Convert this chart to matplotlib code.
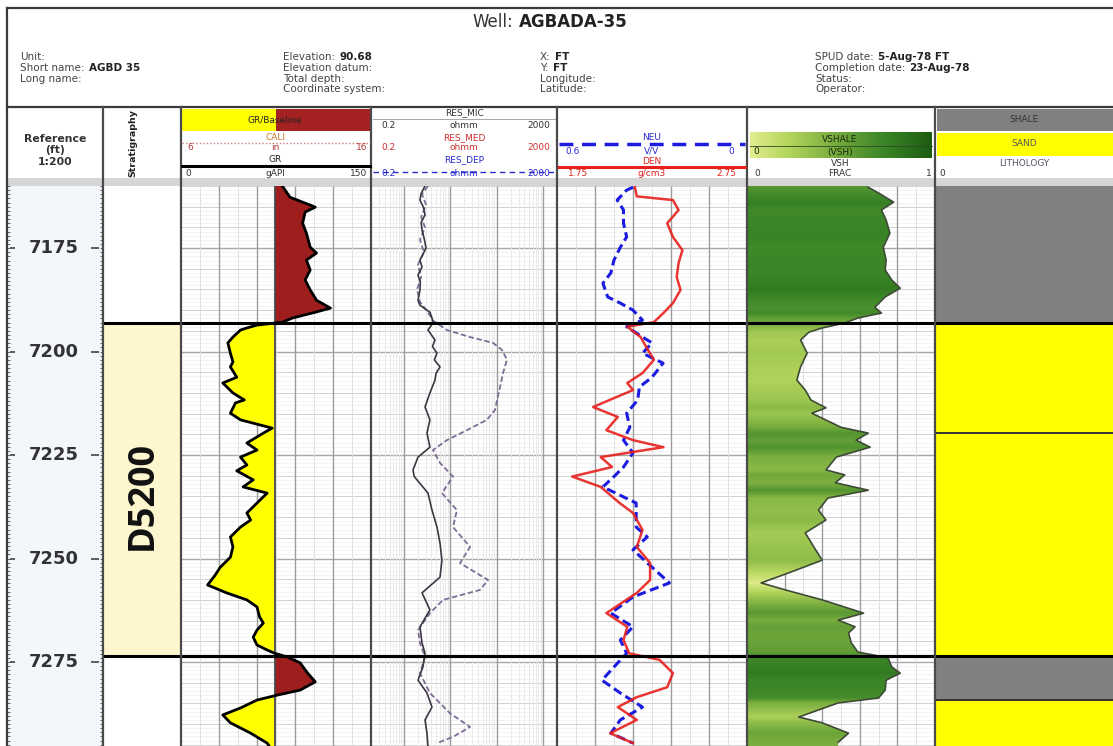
import numpy as np
import matplotlib
matplotlib.use("Agg")
import matplotlib.pyplot as plt
from matplotlib.colors import LinearSegmentedColormap
from matplotlib.patches import Rectangle

# ---- well data (depth in ft) ----
DEPTH_TOP, DEPTH_BOT = 7160.0, 7295.3
depth_labels = [7175, 7200, 7225, 7250, 7275]

zone_name = "D5200"
zone_top, zone_base = 7193.1, 7273.6

gr_base = 74.0
gr_depth = [7160.0, 7162.7, 7165.1, 7166.3, 7169.0, 7171.4, 7174.8, 7176.2, 7177.9, 7180.3,
            7182.7, 7185.1, 7187.6, 7189.5, 7190.5, 7191.9, 7192.9, 7193.6, 7194.3, 7194.8,
            7196.5, 7197.9, 7200.4, 7202.5, 7203.7, 7206.2, 7207.6, 7210.0, 7211.7, 7212.4,
            7214.9, 7216.5, 7218.5, 7219.7, 7222.1, 7223.8, 7225.5, 7227.4, 7228.8, 7231.0,
            7232.7, 7234.2, 7236.6, 7239.0, 7240.7, 7242.4, 7244.8, 7247.2, 7249.7, 7252.1,
            7254.0, 7256.4, 7258.3, 7260.0, 7261.7, 7264.1, 7265.6, 7267.3, 7269.0, 7270.9,
            7272.1, 7272.9, 7273.8, 7275.2, 7277.7, 7279.8, 7281.8, 7283.0, 7284.2, 7286.1,
            7287.8, 7289.7, 7292.2, 7294.6, 7295.5]
gr = [80, 86, 106, 98, 96, 99, 102, 107, 99, 102,
      98, 102, 107, 118, 106, 88, 80, 60, 52, 47,
      41, 37, 39, 41, 39, 44, 33, 41, 50, 43,
      39, 47, 72, 65, 52, 60, 47, 52, 44, 57,
      49, 68, 60, 52, 55, 47, 39, 41, 39, 31,
      27, 21, 36, 52, 60, 62, 65, 60, 57, 60,
      68, 74, 84, 94, 100, 106, 94, 76, 60, 47,
      33, 39, 55, 68, 70]

res_med_depth = [7160.0, 7161.8, 7163.4, 7165.2, 7167.0, 7168.8, 7170.6, 7172.8, 7175.0, 7177.9,
                 7179.6, 7181.5, 7183.3, 7185.1, 7187.6, 7188.8, 7190.5, 7191.9, 7193.1, 7194.8,
                 7197.2, 7198.8, 7200.4, 7202.0, 7203.7, 7205.3, 7206.9, 7210.0, 7213.4, 7216.5,
                 7219.7, 7223.1, 7225.5, 7228.6, 7230.2, 7234.2, 7238.3, 7242.4, 7246.3, 7250.4,
                 7254.5, 7258.3, 7262.4, 7266.5, 7270.4, 7272.9, 7276.2, 7279.4, 7282.5, 7285.9,
                 7289.0, 7292.2, 7295.5]
res_med = [2.9, 2.4, 2.26, 2.7, 2.9, 2.4, 2.5, 2.8, 3.05, 2.26,
           2.5, 2.05, 2.3, 2.26, 2.05, 2.26, 3.7, 4.1, 4.3, 3.36,
           4.75, 4.2, 5.25, 4.6, 6.1, 5.0, 4.75, 3.7, 2.9, 3.7,
           3.2, 3.7, 2.05, 1.6, 1.7, 3.36, 4.1, 5.25, 6.1, 6.7,
           6.1, 2.5, 3.7, 2.26, 2.5, 2.9, 2.62, 2.05, 3.2, 4.1,
           2.9, 3.2, 3.36]

res_dep_depth = [7160.0, 7162.0, 7164.5, 7167.5, 7170.0, 7173.0, 7176.0, 7179.0, 7182.0, 7185.0,
                 7188.0, 7190.5, 7192.5, 7194.8, 7196.5, 7197.9, 7199.6, 7202.0, 7205.2, 7208.6,
                 7211.7, 7214.1, 7216.5, 7219.0, 7221.4, 7223.8, 7226.9, 7230.2, 7234.2, 7238.3,
                 7242.4, 7247.2, 7251.1, 7255.2, 7257.6, 7260.0, 7263.2, 7267.3, 7270.4, 7273.8,
                 7277.7, 7282.5, 7287.4, 7290.7, 7293.1, 7294.6]
res_dep = [3.36, 2.5, 3.05, 2.4, 2.9, 2.26, 2.75, 2.05, 2.4, 1.95,
           2.26, 3.36, 4.3, 8.6, 27, 84, 131, 168, 138, 119,
           103, 93, 62, 23, 8.6, 4.3, 6.1, 11.6, 6.7, 14.1,
           11.6, 27, 16.4, 66, 44, 7.1, 3.7, 2.05, 2.26, 2.9,
           2.26, 3.7, 10, 27, 11.6, 5.25]

neu_depth = [7160.3, 7161.0, 7163.4, 7165.8, 7169.0, 7172.3, 7174.8, 7177.9, 7181.0, 7183.5,
             7186.8, 7188.3, 7190.0, 7192.4, 7194.0, 7196.5, 7197.9, 7200.4, 7202.8, 7206.2,
             7208.6, 7211.7, 7214.9, 7218.3, 7221.4, 7224.5, 7227.9, 7230.2, 7232.7, 7236.6,
             7242.4, 7244.8, 7247.9, 7252.1, 7255.9, 7259.3, 7263.2, 7266.5, 7269.7, 7272.9,
             7276.2, 7279.4, 7282.5, 7285.9, 7289.0, 7292.2, 7294.6]
neu = [0.36, 0.38, 0.41, 0.39, 0.39, 0.38, 0.40, 0.42, 0.43, 0.455,
       0.44, 0.40, 0.36, 0.33, 0.38, 0.33, 0.30, 0.33, 0.265, 0.30,
       0.34, 0.345, 0.38, 0.37, 0.39, 0.36, 0.39, 0.42, 0.455, 0.35,
       0.35, 0.315, 0.36, 0.30, 0.245, 0.36, 0.43, 0.36, 0.40, 0.38,
       0.42, 0.458, 0.40, 0.33, 0.40, 0.43, 0.36]

den_depth = [7160.3, 7162.5, 7163.4, 7165.8, 7169.0, 7172.3, 7175.5, 7178.6, 7182.0, 7185.1,
             7188.3, 7190.7, 7192.9, 7194.0, 7196.5, 7198.9, 7202.0, 7205.2, 7207.6, 7209.3,
             7213.4, 7215.8, 7219.0, 7221.4, 7223.1, 7225.5, 7227.9, 7230.2, 7232.7, 7236.6,
             7239.0, 7243.1, 7247.2, 7251.1, 7255.2, 7258.3, 7263.2, 7266.5, 7269.7, 7272.9,
             7274.5, 7277.7, 7281.1, 7283.5, 7285.9, 7289.0, 7292.2, 7294.6]
den = [2.16, 2.17, 2.36, 2.39, 2.33, 2.36, 2.41, 2.39, 2.38, 2.40,
       2.36, 2.31, 2.26, 2.12, 2.19, 2.22, 2.26, 2.20, 2.12, 2.15,
       1.94, 2.07, 2.01, 2.15, 2.31, 1.98, 2.04, 1.83, 1.98, 2.08,
       2.15, 2.20, 2.17, 2.24, 2.24, 2.17, 2.01, 2.12, 2.10, 2.13,
       2.29, 2.36, 2.33, 2.17, 2.07, 2.17, 2.03, 2.15]

vsh_depth = [7160.3, 7161.7, 7163.9, 7165.8, 7168.2, 7171.4, 7174.8, 7177.9, 7180.3, 7182.7,
             7184.7, 7186.8, 7189.3, 7190.7, 7191.9, 7193.1, 7194.3, 7195.3, 7197.2, 7200.4,
             7203.7, 7206.9, 7209.3, 7211.7, 7213.6, 7214.9, 7218.3, 7219.7, 7221.4, 7223.1,
             7225.5, 7228.6, 7229.8, 7231.7, 7233.5, 7235.4, 7238.3, 7240.7, 7243.8, 7247.9,
             7250.4, 7253.5, 7255.9, 7257.6, 7260.0, 7263.2, 7264.9, 7266.5, 7268.0, 7270.4,
             7272.6, 7274.0, 7276.2, 7277.7, 7279.4, 7281.8, 7283.7, 7284.9, 7286.6, 7288.3,
             7289.7, 7292.2, 7294.4]
vsh = [0.645, 0.70, 0.78, 0.715, 0.74, 0.76, 0.725, 0.74, 0.735, 0.77,
       0.815, 0.735, 0.68, 0.715, 0.59, 0.52, 0.40, 0.33, 0.285, 0.32,
       0.285, 0.265, 0.31, 0.34, 0.42, 0.345, 0.50, 0.645, 0.58, 0.655,
       0.475, 0.42, 0.52, 0.47, 0.645, 0.43, 0.38, 0.42, 0.31, 0.365,
       0.40, 0.22, 0.075, 0.205, 0.40, 0.62, 0.485, 0.575, 0.54, 0.555,
       0.59, 0.75, 0.77, 0.815, 0.74, 0.735, 0.70, 0.485, 0.38, 0.275,
       0.40, 0.54, 0.485]

lith_top = [7160.0, 7193.1, 7219.7, 7273.6, 7284.2]
lith_base = [7193.1, 7219.7, 7273.6, 7284.2, 7296.0]
lith_kind = ["SHALE", "SAND", "SAND", "SHALE", "SAND"]
lith_color = {"SHALE": "#808080", "SAND": "#ffff00"}

# ---- page layout, in pixels ----
W, H = 1113, 746
TRACK_Y0 = 186
COLS = {"depth": (7, 103), "strat": (103, 181), "gr": (181, 371), "res": (371, 557),
        "nd": (557, 747), "vsh": (747, 935), "lith": (935, 1113)}

vsh_cmap = LinearSegmentedColormap.from_list(
    "vsh", [(0, "#eef39a"), (0.25, "#b3d55c"), (0.5, "#76ab3d"), (0.75, "#3a8527"), (1, "#1d5c12")])

fig = plt.figure(figsize=(W / 100, H / 100), dpi=100)
fig.patch.set_facecolor("white")


def frac_box(x0, y0, x1, y1):
    return [x0 / W, 1 - y1 / H, (x1 - x0) / W, (y1 - y0) / H]


def track(name):
    x0, x1 = COLS[name]
    ax = fig.add_axes(frac_box(x0, TRACK_Y0, x1, H))
    ax.set_ylim(DEPTH_BOT, DEPTH_TOP)
    for s in ax.spines.values():
        s.set_visible(False)
    ax.tick_params(which="both", left=False, bottom=False, labelleft=False, labelbottom=False)
    return ax


def depth_grid(ax):
    tf = ax.get_yaxis_transform()
    ax.hlines(np.arange(7160, 7296, 1), 0, 1, transform=tf, color="#eeeeee", lw=0.5, zorder=0)
    ax.hlines(np.arange(7160, 7296, 5), 0, 1, transform=tf, color="#d2d2d2", lw=0.7, zorder=0)
    ax.hlines(depth_labels, 0, 1, transform=tf, color="#a8a8a8", lw=1.0, zorder=0)


def vgrid(ax, major, minor, minor_color="#dcdcdc"):
    tf = ax.get_xaxis_transform()
    ax.vlines(minor, 0, 1, transform=tf, color=minor_color, lw=0.6, zorder=0)
    ax.vlines(major, 0, 1, transform=tf, color="#9c9c9c", lw=1.0, zorder=0)


def zone_lines(ax):
    for d in (zone_top, zone_base):
        ax.axhline(d, color="black", lw=2.2, zorder=6)


# depth column
ax_d = track("depth")
ax_d.set_facecolor("#f3f6fa")
tf = ax_d.get_yaxis_transform()
minor_d = np.arange(7160, 7296, 1)
ax_d.hlines(minor_d, 0, 0.035, transform=tf, color="#666", lw=0.7)
ax_d.hlines(minor_d, 0.965, 1, transform=tf, color="#666", lw=0.7)
ax_d.hlines(depth_labels, 0.03, 0.08, transform=tf, color="#444", lw=1.2)
ax_d.hlines(depth_labels, 0.88, 0.96, transform=tf, color="#444", lw=1.2)
for d in depth_labels:
    ax_d.text(0.49, d, str(d), transform=tf, ha="center", va="center",
              fontsize=13, fontweight="bold", color="#333")

# stratigraphy column
ax_s = track("strat")
ax_s.axhspan(zone_top, zone_base, color="#fdf6cf", zorder=1)
ax_s.text(0.51, (zone_top + zone_base) / 2 + 1.5, zone_name, transform=ax_s.get_yaxis_transform(),
          rotation=90, ha="center", va="center", fontsize=26, fontweight="bold",
          family=["Open Sans", "DejaVu Sans"], color="#111")
zone_lines(ax_s)

# GR track
gr_a = np.array(gr, float)
ax_g = track("gr")
ax_g.set_xlim(0, 150)
depth_grid(ax_g)
vgrid(ax_g, np.arange(30, 150, 30), np.arange(15, 150, 15))
ax_g.fill_betweenx(gr_depth, gr_a, gr_base, where=gr_a <= gr_base, interpolate=True,
                   color="#ffff00", lw=0, zorder=2)
ax_g.fill_betweenx(gr_depth, gr_a, gr_base, where=gr_a >= gr_base, interpolate=True,
                   color="#9e1d1d", lw=0, zorder=2)
ax_g.axvline(gr_base, color="#4a4a4a", lw=1.3, zorder=3)
ax_g.plot(gr, gr_depth, color="black", lw=2.0, zorder=4)
zone_lines(ax_g)

# resistivity track
ax_r = track("res")
ax_r.set_xscale("log")
ax_r.set_xlim(0.2, 2000)
depth_grid(ax_r)
minor_r = [k * 10.0 ** e for e in range(-1, 4) for k in range(2, 10) if 0.2 < k * 10.0 ** e < 2000]
vgrid(ax_r, [1, 10, 100, 1000], minor_r, minor_color="#e6e6e6")
ax_r.plot(res_dep, res_dep_depth, color="#7e6c96", lw=1.3, dashes=(3, 1.5), zorder=4)
ax_r.plot(res_med, res_med_depth, color="#3b3742", lw=1.2, zorder=4)
zone_lines(ax_r)

# neutron / density track
ax_n = track("nd")
ax_n.set_xlim(0.6, 0)
depth_grid(ax_n)
vgrid(ax_n, np.linspace(0, 0.6, 6)[1:-1], np.linspace(0, 0.6, 11)[1::2])
ax_n.plot(neu, neu_depth, color="#1c1ce0", lw=2.2, dashes=(3, 1.5), zorder=4)
ax_den = ax_n.twiny()
ax_den.set_xlim(1.75, 2.75)
ax_den.set_ylim(DEPTH_BOT, DEPTH_TOP)
for s in ax_den.spines.values():
    s.set_visible(False)
ax_den.tick_params(which="both", top=False, labeltop=False, bottom=False, labelbottom=False)
ax_den.plot(den, den_depth, color="#e8201c", lw=1.8, alpha=0.9, zorder=4)
zone_lines(ax_den)

# shale volume track
ax_v = track("vsh")
ax_v.set_xlim(0, 1)
depth_grid(ax_v)
vgrid(ax_v, [0.2, 0.4, 0.6, 0.8], np.arange(0.1, 1.0, 0.2))
dd = np.linspace(DEPTH_TOP, DEPTH_BOT, 900)
vv = np.interp(dd, vsh_depth, vsh)
shape = ax_v.fill_betweenx(dd, 0, vv, facecolor="none", edgecolor="none")
img = ax_v.imshow(vv[:, None], extent=[0, 1, DEPTH_BOT, DEPTH_TOP], cmap=vsh_cmap, vmin=0, vmax=1,
                  aspect="auto", origin="upper", interpolation="bilinear", zorder=2)
img.set_clip_path(shape.get_paths()[0], transform=ax_v.transData)
ax_v.plot(vsh, vsh_depth, color="#3d4a36", lw=1.2, zorder=4)
ax_v.set_xlim(0, 1)
ax_v.set_ylim(DEPTH_BOT, DEPTH_TOP)
zone_lines(ax_v)

# lithology track
ax_l = track("lith")
ax_l.set_xlim(0, 1)
for top, base, kind in zip(lith_top, lith_base, lith_kind):
    ax_l.axhspan(top, base, color=lith_color[kind], zorder=1)
for top in lith_top[1:]:
    ax_l.axhline(top, color="#333", lw=1.4, zorder=2)
zone_lines(ax_l)

# ---- header and frame ----
ov = fig.add_axes([0, 0, 1, 1])
ov.set_xlim(0, W)
ov.set_ylim(H, 0)
ov.axis("off")
ov.patch.set_alpha(0)

LINE = "#3a3a3a"
ov.plot([7, W], [8, 8], color=LINE, lw=1.6)
ov.plot([7, 7], [8, H], color=LINE, lw=1.6)
ov.plot([7, W], [107, 107], color=LINE, lw=1.6)
ov.add_patch(Rectangle((7, 178), W - 7, 8, color="#d6d6d6", lw=0))
for x in (103, 181, 371, 557, 747, 935):
    ov.plot([x, x], [107, H], color="#4a4a4a", lw=1.6)

ov.text(513, 22, "Well:", ha="right", va="center", fontsize=12, color="#333")
ov.text(519, 22, "AGBADA-35", ha="left", va="center", fontsize=12, fontweight="bold", color="#222")


def info(x, y, label, value=None):
    t = ov.text(x, y, label, ha="left", va="center", fontsize=7.5, color="#444")
    if value:
        ov.annotate(value, xy=(1, 0.5), xycoords=t, xytext=(3, 0), textcoords="offset points",
                    ha="left", va="center", fontsize=7.5, fontweight="bold", color="#222")


info(20, 57, "Unit:")
info(20, 68, "Short name:", "AGBD 35")
info(20, 79, "Long name:")
info(283, 57, "Elevation:", "90.68")
info(283, 68, "Elevation datum:")
info(283, 79, "Total depth:")
info(283, 89, "Coordinate system:")
info(540, 57, "X:", "FT")
info(540, 68, "Y:", "FT")
info(540, 79, "Longitude:")
info(540, 89, "Latitude:")
info(815, 57, "SPUD date:", "5-Aug-78 FT")
info(815, 68, "Completion date:", "23-Aug-78")
info(815, 79, "Status:")
info(815, 89, "Operator:")


def htxt(x, y, s, color="#333", size=6.5, ha="center", weight="normal"):
    ov.text(x, y, s, ha=ha, va="center", fontsize=size, color=color, fontweight=weight)


# depth and stratigraphy headers
htxt(55, 139, "Reference", size=7.8, weight="bold")
htxt(55, 150, "(ft)", size=7.8, weight="bold")
htxt(55, 162, "1:200", size=7.8, weight="bold")
ov.text(133, 143, "Stratigraphy", rotation=90, ha="center", va="center",
        fontsize=6.8, fontweight="bold", color="#222")

# GR header
ov.add_patch(Rectangle((182, 109), 94, 22, color="#ffff00", lw=0))
ov.add_patch(Rectangle((276, 109), 94, 22, color="#a52222", lw=0))
htxt(275, 120, "GR/Baseline", color="#222")
htxt(275, 137, "CALI", color="#c8782a")
ov.plot([182, 370], [143, 143], color="#d08080", lw=1, ls=(0, (1, 1.5)))
htxt(190, 148, "6", color="#b03a3a")
htxt(275, 148, "in", color="#b03a3a")
htxt(362, 148, "16", color="#b03a3a")
htxt(275, 159, "GR", color="#222")
ov.plot([182, 370], [166, 166], color="black", lw=2.2)
htxt(188, 173, "0")
htxt(275, 173, "gAPI")
htxt(359, 173, "150")

# resistivity header
htxt(464, 113, "RES_MIC")
ov.plot([373, 555], [119, 119], color="#999", lw=0.6)
htxt(388, 126, "0.2")
htxt(464, 126, "ohmm")
htxt(539, 126, "2000")
htxt(464, 138, "RES_MED", color="#d03030")
htxt(388, 148, "0.2", color="#d03030")
htxt(464, 148, "ohmm", color="#d03030")
htxt(539, 148, "2000", color="#d03030")
htxt(464, 160, "RES_DEP", color="#2a2ad0")
ov.plot([373, 555], [172, 172], color="#2a2ad0", lw=1.0, ls=(0, (4, 3)))
htxt(388, 173, "0.2", color="#2a2ad0")
htxt(464, 173, "ohmm", color="#2a2ad0")
htxt(539, 173, "2000", color="#2a2ad0")

# neutron / density header
htxt(652, 138, "NEU", color="#2a2ad0")
ov.plot([559, 745], [144, 144], color="#1c1ce0", lw=2.5, ls=(0, (4, 2.5)))
htxt(573, 151, "0.6", color="#2a2ad0")
htxt(652, 151, "V/V", color="#2a2ad0")
htxt(731, 151, "0", color="#2a2ad0")
htxt(652, 161, "DEN", color="#e02020")
ov.plot([559, 745], [167, 167], color="#e8201c", lw=2.2)
htxt(578, 174, "1.75", color="#e02020")
htxt(652, 174, "g/cm3", color="#e02020")
htxt(726, 174, "2.75", color="#e02020")

# shale volume header
ov.imshow(np.linspace(0.05, 1, 256)[None, :], extent=[750, 932, 158, 132], cmap=vsh_cmap,
          vmin=0, vmax=1, aspect="auto")
ov.plot([750, 932], [146, 146], color="#2d4a22", lw=0.6)
htxt(840, 139, "VSHALE", color="#1a2a10")
htxt(840, 152, "(VSH)", color="#1a2a10")
htxt(756, 152, "0", color="#1a2a10")
htxt(840, 163, "VSH")
htxt(757, 174, "0")
htxt(840, 174, "FRAC")
htxt(929, 174, "1")

# lithology header
ov.add_patch(Rectangle((937, 109), W - 937, 22, color="#808080", lw=0))
htxt(1024, 120, "SHALE", color="#333")
ov.add_patch(Rectangle((937, 133), W - 937, 23, color="#ffff00", lw=0))
htxt(1024, 144, "SAND", color="#555")
htxt(1024, 163, "LITHOLOGY", color="#556")
htxt(942, 174, "0")

ov.set_xlim(0, W)
ov.set_ylim(H, 0)

fig.savefig("out.png", dpi=100)
